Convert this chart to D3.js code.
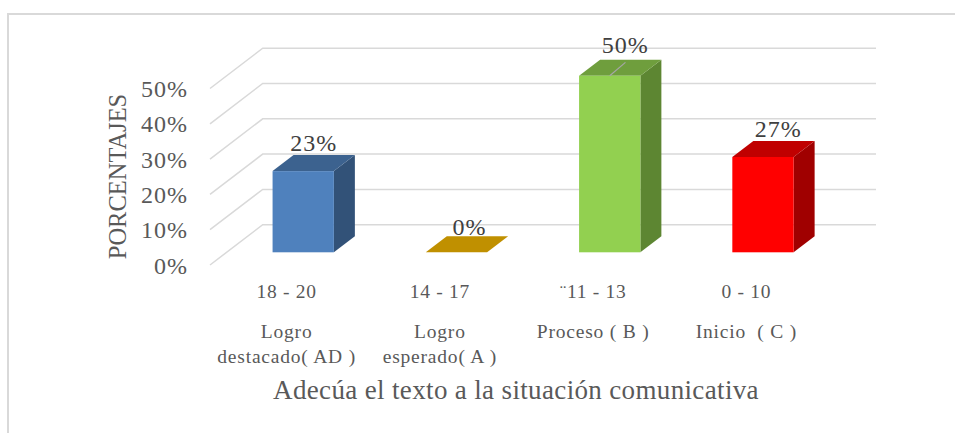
<!DOCTYPE html>
<html>
<head>
<meta charset="utf-8">
<script src="https://cdnjs.cloudflare.com/ajax/libs/d3/7.8.5/d3.min.js"></script>
<style>
html,body{margin:0;padding:0;background:#fff;overflow:hidden}
svg{display:block}
text{font-family:"Liberation Serif",serif}
</style>
</head>
<body>
<svg id="chart" width="955" height="433"></svg>
<script>
// Data
const categories = ["18 - 20", "14 - 17", "¨11 - 13", "0 - 10"];
const levelLines = [["Logro", "destacado( AD )"], ["Logro", "esperado( A )"], ["Proceso ( B )"], ["Inicio  ( C )"]];
const values = [0.23, 0, 0.50, 0.27];
const yTicks = [0, 0.1, 0.2, 0.3, 0.4, 0.5];
const frontColors = ["#4f81bd", "#c09000", "#92d050", "#ff0000"];
const topColors = ["#3c628f", "#c09000", "#6f9e3d", "#c00000"];
const sideColors = ["#325278", "#a07800", "#5d8632", "#a00000"];
const yAxisTitle = "PORCENTAJES";
const xAxisTitle = "Adecúa el texto a la situación comunicativa";

// Layout
const wallDepth = {x: 52.7, y: -40.3};
const floorOffset = {x: 16.6, y: -12.7};
const barDepth = {x: 21, y: -16};
const labelNudge = [{x: 0, y: -4}, {x: 2.5, y: -1}, {x: 5, y: -6.7}, {x: 4.8, y: -4.3}];

const svg = d3.select("#chart");
const x = d3.scaleBand().domain(categories).range([210, 823]).paddingInner(0.6).paddingOuter(0.3);
const y = d3.scaleLinear().domain([0, 0.5]).range([265, 88.5]);

// Outer frame (chart area border, cropped)
svg.append("path").attr("d", "M8,433V14H955").attr("fill", "none").attr("stroke", "#d9d9d9").attr("stroke-width", 2);

// Gridlines
const line = d3.line();
svg.append("g").selectAll("path").data(yTicks).join("path")
  .attr("d", d => line([[210, y(d)], [210 + wallDepth.x, y(d) + wallDepth.y], [876, y(d) + wallDepth.y]]))
  .attr("fill", "none").attr("stroke", "#d9d9d9").attr("stroke-width", 1.5);

// Y axis
const yAxis = svg.append("g").attr("transform", "translate(210,0)")
  .call(d3.axisLeft(y).tickValues(yTicks).tickFormat(d3.format(".0%")).tickSize(0).tickPadding(22));
yAxis.select(".domain").remove();
yAxis.selectAll("text").attr("dy", 8).attr("fill", "#595959")
  .style("font-family", '"Liberation Serif",serif').style("font-size", "24px").style("letter-spacing", "1px");

// 3D bars
const poly = pts => line(pts) + "Z";
const idx = c => categories.indexOf(c);
const bars = svg.append("g").selectAll("g").data(categories).join("g");
const geom = c => {
  const x0 = x(c) + floorOffset.x, x1 = x0 + x.bandwidth();
  const yb = y(0) + floorOffset.y, yt = y(values[idx(c)]) + floorOffset.y;
  return {x0, x1, yb, yt};
};
bars.append("path")
  .attr("d", c => { const g = geom(c);
    return poly([[g.x1, g.yb], [g.x1 + barDepth.x, g.yb + barDepth.y], [g.x1 + barDepth.x, g.yt + barDepth.y], [g.x1, g.yt]]); })
  .attr("fill", c => sideColors[idx(c)]);
bars.append("path")
  .attr("d", c => { const g = geom(c);
    return poly([[g.x0, g.yt], [g.x0 + barDepth.x, g.yt + barDepth.y], [g.x1 + barDepth.x, g.yt + barDepth.y], [g.x1, g.yt]]); })
  .attr("fill", c => topColors[idx(c)]);
bars.filter(c => values[idx(c)] > 0).append("rect")
  .attr("x", c => geom(c).x0)
  .attr("y", c => geom(c).yt)
  .attr("width", x.bandwidth())
  .attr("height", c => geom(c).yb - geom(c).yt)
  .attr("fill", c => frontColors[idx(c)]);

// Leader line of the 50% label
const peak = categories[values.indexOf(d3.max(values))];
const gp = geom(peak);
svg.append("path")
  .attr("d", line([[(gp.x0 + gp.x1) / 2, gp.yt], [(gp.x0 + gp.x1) / 2 + 15.7, gp.yt - 13.4]]))
  .attr("stroke", "#a6a6a6").attr("stroke-width", 1.2).attr("fill", "none");

// Data labels
svg.append("g").selectAll("text").data(categories).join("text")
  .attr("x", (c, i) => { const g = geom(c); return (g.x0 + g.x1) / 2 + barDepth.x / 2 + labelNudge[i].x; })
  .attr("y", (c, i) => geom(c).yt + barDepth.y + labelNudge[i].y)
  .attr("text-anchor", "middle").attr("fill", "#404040")
  .style("font-size", "24px").style("letter-spacing", "1px")
  .text((c, i) => d3.format(".0%")(values[i]));

// Category labels
const cx = c => x(c) + x.bandwidth() / 2;
svg.append("g").selectAll("text").data(categories).join("text")
  .attr("x", cx).attr("y", 297.5).attr("text-anchor", "middle").attr("fill", "#595959")
  .style("font-size", "19.5px").style("letter-spacing", "0.7px").text(c => c);
const lvl = svg.append("g").selectAll("g").data(categories).join("g");
lvl.selectAll("text").data((c, i) => levelLines[i].map(t => ({t, c}))).join("text")
  .attr("x", d => cx(d.c)).attr("y", (d, j) => 338 + j * 25)
  .attr("text-anchor", "middle").attr("fill", "#595959")
  .style("font-size", "19.5px").style("letter-spacing", "0.8px").style("white-space", "pre").text(d => d.t);

// Axis titles
svg.append("text").attr("transform", "translate(126,176.5) rotate(-90)")
  .attr("text-anchor", "middle").attr("fill", "#595959")
  .style("font-size", "24.5px").text(yAxisTitle);
svg.append("text").attr("x", 516).attr("y", 399)
  .attr("text-anchor", "middle").attr("fill", "#595959")
  .style("font-size", "27px").style("letter-spacing", "0.35px").text(xAxisTitle);
</script>
</body>
</html>
